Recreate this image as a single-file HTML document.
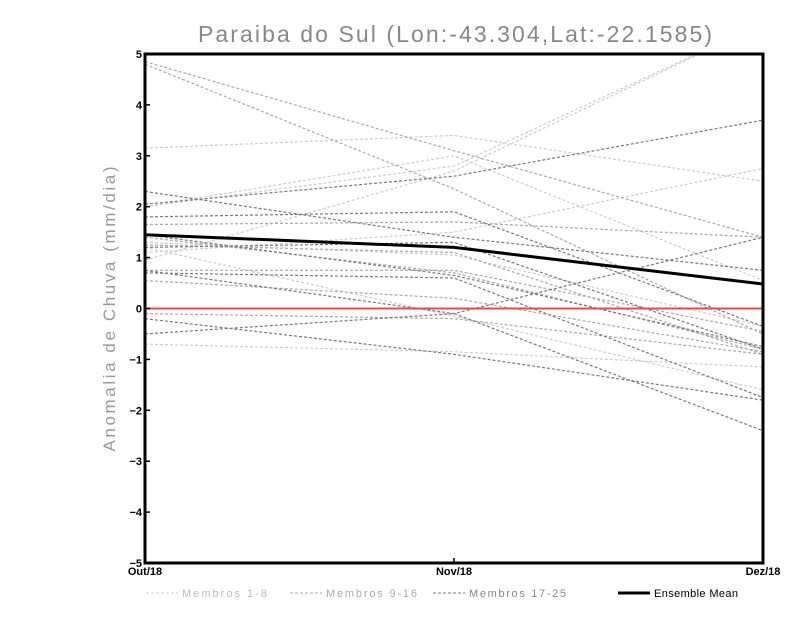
<!DOCTYPE html>
<html><head><meta charset="utf-8"><style>
body{margin:0;background:#fff;}
svg text{font-family:"Liberation Sans",sans-serif;}
</style></head><body>
<svg id="c" width="800" height="618" xmlns="http://www.w3.org/2000/svg">
<defs><clipPath id="pc"><rect x="145" y="54" width="618" height="509"/></clipPath></defs>
<text x="455" y="42" text-anchor="middle" font-size="23" fill="#888" textLength="514" lengthAdjust="spacing">Paraiba do Sul (Lon:-43.304,Lat:-22.1585)</text>
<text transform="translate(115,309) rotate(-90)" text-anchor="middle" font-size="17" fill="#999" textLength="285" lengthAdjust="spacing">Anomalia de Chuva (mm/dia)</text>
<g id="series" clip-path="url(#pc)"></g>
<g id="axes"></g>
<g id="legend"></g>
</svg>
<script>
const categories=["Out/18","Nov/18","Dez/18"];
const yTicks=[-5,-4,-3,-2,-1,0,1,2,3,4,5];
const memberGroups=[1,1,1,1,1,1,1,1,2,2,2,2,2,2,2,2,3,3,3,3,3,3,3,3,3];
const memberOct=[3.15,2.0,1.3,0.95,1.1,-0.7,1.2,2.0, 4.85,4.8,1.65,0.55,-0.1,1.4,0.75,1.25, 2.3,2.05,1.8,1.45,1.2,0.7,-0.2,-0.5,0.75];
const memberNov=[3.4,2.8,1.05,2.7,1.5,-0.85,-0.15,3.0, 3.1,2.35,1.7,0.2,-0.2,0.7,0.75,1.1, 1.4,2.6,1.9,0.65,1.3,0.6,-0.9,-0.1,-0.1];
const memberDec=[2.5,5.6,-0.35,5.6,2.75,-1.15,-1.6,0.55, 1.4,-0.5,1.4,-0.85,-0.9,-0.8,-0.45,-0.9, 0.75,3.7,-0.35,-0.75,-0.8,-1.75,-1.8,-2.4,1.4];
const meanValues=[1.45,1.2,0.48];
const X0=145,X1=763,Y0=54,Y1=563;
const xs=i=>X0+(X1-X0)*i/(categories.length-1);
const ys=v=>Y0+(5-v)*(Y1-Y0)/10;
const NS="http://www.w3.org/2000/svg";
function mk(t,a,p){const e=document.createElementNS(NS,t);for(const k in a)e.setAttribute(k,a[k]);p.appendChild(e);return e;}
const S=document.getElementById('series'),A=document.getElementById('axes'),L=document.getElementById('legend');
const cols={1:"#cccccc",2:"#aaaaaa",3:"#7a7a7a"};
for(let m=0;m<memberOct.length;m++){
 const vals=[memberOct[m],memberNov[m],memberDec[m]];
 const pl=mk('polyline',{points:vals.map((v,i)=>xs(i)+','+ys(v)).join(' '),fill:'none',stroke:cols[memberGroups[m]],'stroke-width':1.2,'stroke-dasharray':'3,2'},S);
 
 
}
const zl=mk('line',{x1:X0,x2:X1,y1:ys(0),y2:ys(0),stroke:'#f04848','stroke-width':2},S);


const ml=mk('polyline',{points:meanValues.map((v,i)=>xs(i)+','+ys(v)).join(' '),fill:'none',stroke:'#000','stroke-width':3},S);


const fr=mk('rect',{x:X0,y:Y0,width:X1-X0,height:Y1-Y0,fill:'none',stroke:'#000','stroke-width':3},A);


yTicks.forEach(v=>{
 mk('line',{x1:X0,x2:X0+5,y1:ys(v),y2:ys(v),stroke:'#000','stroke-width':1.5},A);
 const t=mk('text',{x:X0-3,y:ys(v)+4,'text-anchor':'end','font-size':11,'font-weight':'bold'},A);
 t.textContent=String(v).replace('-','−');
 
 
});
categories.forEach((c,i)=>{
 mk('line',{x1:xs(i),x2:xs(i),y1:Y1,y2:Y1-5,stroke:'#000','stroke-width':1.5},A);
 const t=mk('text',{x:xs(i),y:Y1+12,'text-anchor':'middle','font-size':11,'font-weight':'bold'},A);
 t.textContent=c;
 
 
});
const leg=[["Membros 1-8","#cccccc",1,'3,2',146,'#bbb',85],["Membros 9-16","#aaaaaa",1,'3,2',290,'#aaa',91],["Membros 17-25","#7a7a7a",1,'3,2',433,'#888',97],["Ensemble Mean","#000",3,'',618,'#000',84]];
leg.forEach(l=>{
 mk('line',{x1:l[4],x2:l[4]+32,y1:593,y2:593,stroke:l[1],'stroke-width':l[2],'stroke-dasharray':l[3]},L);
 const t=mk('text',{x:l[4]+36,y:597,'font-size':11,fill:l[5],textLength:l[6],lengthAdjust:'spacing'},L);
 t.textContent=l[0];
 
 
});
</script>
</body></html>
